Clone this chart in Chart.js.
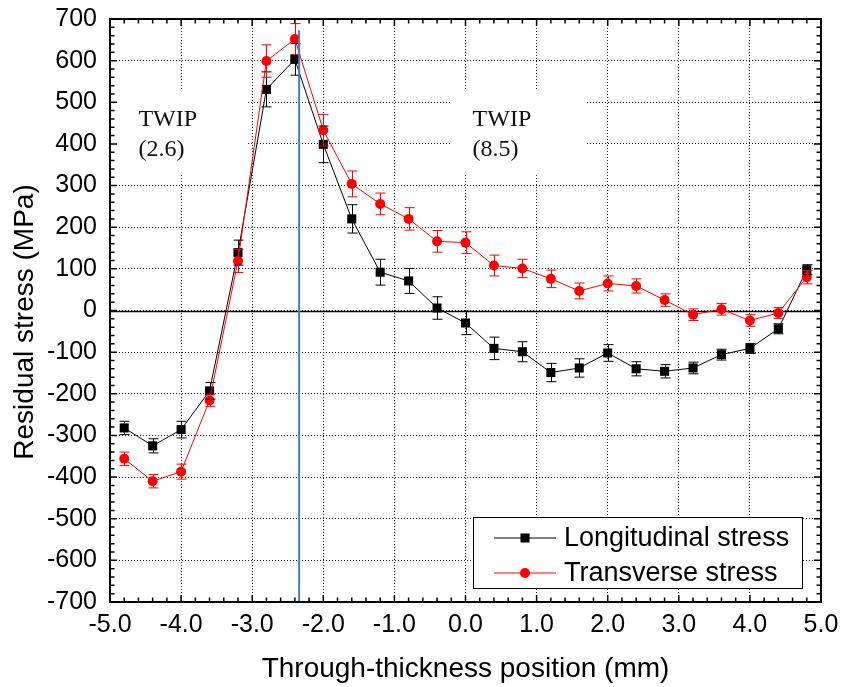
<!DOCTYPE html>
<html>
<head>
<meta charset="utf-8">
<script src="https://cdn.jsdelivr.net/npm/chart.js@4/dist/chart.umd.min.js"></script>
<style>
  html, body { margin: 0; padding: 0; background: #fff; }
  #wrap { width: 841px; height: 687px; position: relative; }
</style>
</head>
<body>
<div id="wrap"><canvas id="chart"></canvas></div>
<script>
// positions through the thickness (mm)
const positions = [-4.8, -4.4, -4.0, -3.6, -3.2, -2.8, -2.4, -2.0, -1.6, -1.2, -0.8, -0.4, 0.0,
  0.4, 0.8, 1.2, 1.6, 2.0, 2.4, 2.8, 3.2, 3.6, 4.0, 4.4, 4.8];

// longitudinal stress (MPa) and its error
const longStress = [-282, -325, -286, -193, 139, 531, 603, 399, 220, 92, 71, 6, -30,
  -91, -99, -149, -138, -102, -140, -146, -138, -106, -91, -44, 98];
const longErr = [16, 17, 20, 20, 30, 42, 38, 44, 34, 31, 30, 27, 28,
  27, 24, 22, 22, 20, 17, 16, 14, 13, 12, 12, 12];

// transverse stress (MPa) and its error
const transStress = [-356, -410, -387, -216, 119, 599, 652, 433, 304, 256, 220, 166, 163,
  108, 101, 76, 47, 65, 59, 25, -10, 3, -24, -6, 80];
const transErr = [16, 16, 18, 15, 28, 39, 37, 38, 31, 26, 27, 26, 26,
  25, 22, 21, 19, 18, 17, 15, 14, 14, 14, 13, 16];

const seriesLabels = ['Longitudinal stress', 'Transverse stress'];
const xTitle = 'Through-thickness position (mm)';
const yTitle = 'Residual stress (MPa)';

// interface line and region notes
const interfaceX = -2.34;
const interfaceTop = 673;
const notes = [
  { lines: ['TWIP', '(2.6)'], x: -4.6, y: 443, box: [-5.0, -3.07, 530, 325] },
  { lines: ['TWIP', '(8.5)'], x: 0.1, y: 443, box: [-0.22, 1.68, 530, 325] },
];

const BLACK = '#000000';
const RED = '#ff0000';
const SANS = '"Liberation Sans", Arial, sans-serif';
const SQ_R = 6.4;   // square marker radius
const DOT_R = 5;    // circle marker radius
const CAP = 5;      // half width of error caps

const toPts = (ys) => positions.map((x, i) => ({ x, y: ys[i] }));

const decorPlugin = {
  id: 'decor',
  beforeDatasetsDraw(chart) {
    const { ctx, chartArea: a, scales: { x, y } } = chart;
    ctx.save();
    // white boxes behind the notes (cut the grid)
    ctx.fillStyle = '#fff';
    notes.forEach(n => {
      const [x0, x1, y0, y1] = n.box;
      const px0 = Math.max(x.getPixelForValue(x0), a.left + 1);
      ctx.fillRect(px0, y.getPixelForValue(y0), x.getPixelForValue(x1) - px0, y.getPixelForValue(y1) - y.getPixelForValue(y0));
    });
    ctx.fillStyle = '#111';
    ctx.font = '24px "Liberation Serif", "Times New Roman", serif';
    ctx.textBaseline = 'alphabetic';
    ctx.textAlign = 'left';
    notes.forEach(n => {
      const px = x.getPixelForValue(n.x);
      const py = y.getPixelForValue(n.y);
      n.lines.forEach((t, i) => ctx.fillText(t, px, py + i * 30));
    });
    // zero line
    const y0 = Math.round(y.getPixelForValue(0)) + 0.5;
    ctx.strokeStyle = '#000';
    ctx.lineWidth = 1.5;
    ctx.beginPath();
    ctx.moveTo(a.left, y0);
    ctx.lineTo(a.right, y0);
    ctx.stroke();
    ctx.restore();
  },
  afterDatasetsDraw(chart) {
    const { ctx, chartArea: a, scales: { x, y } } = chart;
    ctx.save();
    // error bars
    const drawErr = (vals, errs, color) => {
      ctx.strokeStyle = color;
      ctx.lineWidth = 1;
      positions.forEach((p, i) => {
        const px = Math.round(x.getPixelForValue(p)) + 0.5;
        const yt = y.getPixelForValue(vals[i] + errs[i]);
        const yb = y.getPixelForValue(vals[i] - errs[i]);
        ctx.beginPath();
        ctx.moveTo(px, yt); ctx.lineTo(px, yb);
        ctx.moveTo(px - CAP, yt); ctx.lineTo(px + CAP, yt);
        ctx.moveTo(px - CAP, yb); ctx.lineTo(px + CAP, yb);
        ctx.stroke();
      });
    };
    drawErr(longStress, longErr, BLACK);
    drawErr(transStress, transErr, RED);

    // interface line
    const bx = x.getPixelForValue(interfaceX);
    ctx.strokeStyle = '#4a7ebb';
    ctx.lineWidth = 2;
    ctx.beginPath();
    ctx.moveTo(bx, y.getPixelForValue(interfaceTop));
    ctx.lineTo(bx, a.bottom);
    ctx.stroke();

    // inward ticks
    ctx.strokeStyle = '#000';
    ctx.lineWidth = 1.5;
    ctx.beginPath();
    for (let i = -25; i <= 25; i++) {
      const px = x.getPixelForValue(i / 5);
      const len = i % 5 === 0 ? 7 : 4.5;
      ctx.moveTo(px, a.bottom); ctx.lineTo(px, a.bottom - len);
      ctx.moveTo(px, a.top); ctx.lineTo(px, a.top + len);
    }
    for (let i = -35; i <= 35; i++) {
      const py = y.getPixelForValue(i * 20);
      const len = i % 5 === 0 ? 7 : 4.5;
      ctx.moveTo(a.left, py); ctx.lineTo(a.left + len, py);
      ctx.moveTo(a.right, py); ctx.lineTo(a.right - len, py);
    }
    ctx.stroke();

    // frame
    ctx.lineWidth = 2;
    ctx.strokeRect(a.left, a.top, a.right - a.left, a.bottom - a.top);

    // legend
    const lw = 329, lh = 71;
    const lx = a.right - 19 - lw, ly = a.bottom - 14 - lh;
    ctx.fillStyle = '#fff';
    ctx.fillRect(lx, ly, lw, lh);
    ctx.lineWidth = 1;
    ctx.strokeStyle = '#000';
    ctx.strokeRect(lx + 0.5, ly + 0.5, lw, lh);
    const rows = [
      { color: BLACK, style: 'rect', r: SQ_R },
      { color: RED, style: 'circle', r: DOT_R },
    ];
    ctx.font = '27px ' + SANS;
    ctx.textBaseline = 'middle';
    ctx.textAlign = 'left';
    rows.forEach((row, i) => {
      const cy = ly + 21 + i * 35;
      ctx.strokeStyle = row.color;
      ctx.lineWidth = 1;
      ctx.beginPath();
      ctx.moveTo(lx + 21, cy); ctx.lineTo(lx + 83, cy);
      ctx.stroke();
      ctx.fillStyle = row.color;
      ctx.beginPath();
      if (row.style === 'rect') {
        const s = row.r * Math.SQRT1_2;
        ctx.fillRect(lx + 52 - s, cy - s, 2 * s, 2 * s);
      } else {
        ctx.arc(lx + 52, cy, row.r, 0, Math.PI * 2);
        ctx.fill();
      }
      ctx.fillStyle = '#000';
      ctx.fillText(seriesLabels[i], lx + 91, cy + 1);
    });

    // y axis title
    ctx.translate(25, 322);
    ctx.rotate(-Math.PI / 2);
    ctx.font = '28px ' + SANS;
    ctx.textAlign = 'center';
    ctx.textBaseline = 'middle';
    ctx.fillStyle = '#000';
    ctx.fillText(yTitle, 0, 0);
    ctx.restore();
  },
};

const tickFont = { family: SANS, size: 25 };

new Chart(document.getElementById('chart'), {
  type: 'line',
  data: {
    datasets: [
      {
        label: seriesLabels[0], data: toPts(longStress), order: 1,
        borderColor: BLACK, backgroundColor: BLACK, borderWidth: 1,
        pointStyle: 'rect', pointRadius: SQ_R, pointBorderWidth: 0, tension: 0,
      },
      {
        label: seriesLabels[1], data: toPts(transStress), order: 0,
        borderColor: RED, backgroundColor: RED, borderWidth: 1,
        pointStyle: 'circle', pointRadius: DOT_R, pointBorderWidth: 0, tension: 0,
      },
    ],
  },
  options: {
    responsive: true,
    maintainAspectRatio: false,
    animation: false,
    layout: { padding: { left: 0, right: 20, top: 19, bottom: 0 } },
    plugins: { legend: { display: false }, tooltip: { enabled: false } },
    scales: {
      x: {
        type: 'linear', min: -5, max: 5,
        afterFit: (s) => { s.height = 85; s.paddingLeft = 0; s.paddingRight = 0; },
        ticks: { stepSize: 1, color: '#000', font: tickFont, padding: 8, maxRotation: 0,
          callback: (v) => v.toFixed(1) },
        grid: { color: '#222', lineWidth: 1, drawTicks: false },
        border: { display: false, dash: [1, 2] },
        title: { display: true, text: xTitle, color: '#000', font: { family: SANS, size: 28 }, padding: { top: 10, bottom: 1 } },
      },
      y: {
        min: -700, max: 700,
        afterFit: (s) => { s.width = 110; s.paddingTop = 0; s.paddingBottom = 0; },
        ticks: { stepSize: 100, color: '#000', font: tickFont, padding: 13, callback: (v) => String(v) },
        grid: { color: '#222', lineWidth: 1, drawTicks: false },
        border: { display: false, dash: [1, 2] },
        title: { display: false },
      },
    },
  },
  plugins: [decorPlugin],
});
</script>
</body>
</html>
